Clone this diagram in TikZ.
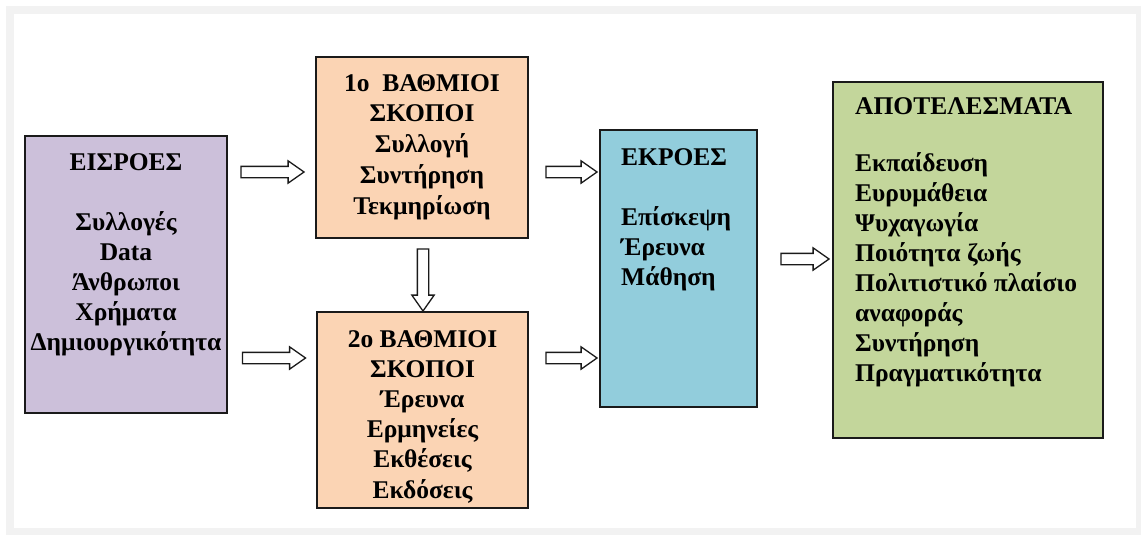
\documentclass[tikz,border=0pt]{standalone}
\usepackage{fontspec}
\setmainfont{Liberation Serif}
\usetikzlibrary{shapes.arrows}
\definecolor{framegray}{HTML}{F2F2F2}
\definecolor{lavender}{HTML}{CCC0DA}
\definecolor{peach}{HTML}{FBD4B4}
\definecolor{skyblue}{HTML}{92CDDC}
\definecolor{olivegreen}{HTML}{C3D69B}
\definecolor{edge}{HTML}{1A1A1A}
\begin{document}
\begin{tikzpicture}[x=1pt,y=-1pt,
  box/.style={draw=edge, line width=1.4pt, inner sep=0pt, rectangle},
  boxtext/.style={inner sep=0pt, font=\bfseries\fontsize{25.5}{30}\selectfont},
  blockarrow/.style={single arrow, draw=edge, fill=white, line width=1.3pt,
     minimum width=0pt, inner sep=5pt,
     single arrow head extend=5.5pt, single arrow tip angle=70},
]
\useasboundingbox (0,0) rectangle (1141,535);
\fill[framegray] (6,6) rectangle (1141,535);
\fill[white] (14,14) rectangle (1136,528);

% boxes
\node[box, fill=lavender, minimum width=202pt, minimum height=277pt] (inp) at (126,274.5) {};
\node[box, fill=peach, minimum width=212pt, minimum height=181pt] (p1) at (422,147.5) {};
\node[box, fill=peach, minimum width=211pt, minimum height=196pt] (p2) at (422.5,410) {};
\node[box, fill=skyblue, minimum width=157pt, minimum height=277pt] (outp) at (678.5,268.5) {};
\node[box, fill=olivegreen, minimum width=270pt, minimum height=356pt] (res) at (968,260) {};

% texts (base anchor = baseline of last line)
\node[boxtext, anchor=base, align=center] (tinp) at (126,350)
  {ΕΙΣΡΟΕΣ\\[30pt]Συλλογές\\Data\\Άνθρωποι\\Χρήματα\\Δημιουργικότητα};
\node[boxtext, anchor=base, align=center, font=\bfseries\fontsize{25.5}{30.7}\selectfont] (tp1) at (422,214)
  {1ο\ \ ΒΑΘΜΙΟΙ\\ΣΚΟΠΟΙ\\Συλλογή\\Συντήρηση\\Τεκμηρίωση};
\node[boxtext, anchor=base, align=center, font=\bfseries\fontsize{25.5}{30.2}\selectfont] (tp2) at (422.5,498)
  {2ο ΒΑΘΜΙΟΙ\\ΣΚΟΠΟΙ\\Έρευνα\\Ερμηνείες\\Εκθέσεις\\Εκδόσεις};
\node[boxtext, anchor=base west, align=left] (toutp) at (621,285)
  {ΕΚΡΟΕΣ\\[30pt]Επίσκεψη\\Έρευνα\\Μάθηση};
\node[boxtext, anchor=base west, align=left] (tres) at (855,381)
  {ΑΠΟΤΕΛΕΣΜΑΤΑ\\[27pt]Εκπαίδευση\\Ευρυμάθεια\\Ψυχαγωγία\\Ποιότητα ζωής\\Πολιτιστικό πλαίσιο\\αναφοράς\\Συντήρηση\\Πραγματικότητα};

% block arrows
\node[blockarrow, minimum height=63pt] (a1) at (268.5,172) {};
\node[blockarrow, minimum height=63pt] (a2) at (270,358) {};
\node[blockarrow, minimum height=51pt] (a3) at (567.5,172) {};
\node[blockarrow, minimum height=51pt] (a4) at (567.5,358) {};
\node[blockarrow, minimum height=48pt] (a5) at (801,259) {};
\node[blockarrow, minimum height=62pt, shape border rotate=270] (a6) at (423,276) {};
\end{tikzpicture}
\end{document}
